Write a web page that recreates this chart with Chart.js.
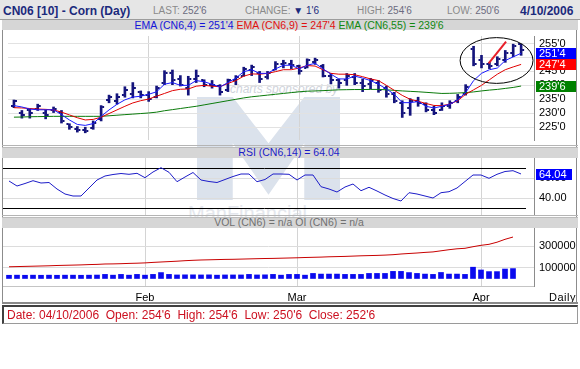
<!DOCTYPE html>
<html>
<head>
<meta charset="utf-8">
<title>CN06 [10] - Corn (Day)</title>
<script src="https://cdn.jsdelivr.net/npm/chart.js@4.4.1/dist/chart.umd.min.js"></script>
<style>
  body { margin: 0; background: #fff; font-family: "Liberation Sans", Arial, sans-serif; }
  #page { position: relative; width: 580px; height: 369px; overflow: hidden; }
  .box { position: absolute; }
  .txt { position: absolute; white-space: pre; line-height: 12px; }
  canvas { position: absolute; }
</style>
</head>
<body>
<div id="page">
  <!-- header -->
  <div class="box" style="left:0;top:0;width:580px;height:19px;background:#e6e6e6;"></div>
  <div class="box" style="left:0;top:19px;width:580px;height:1px;background:#9c9c9c;"></div>
  <div class="txt" style="left:3px;top:4px;font:bold 12px 'Liberation Sans';color:#1b2a7c;">CN06 [10] - Corn (Day)</div>
  <div class="txt" style="left:153px;top:5px;font-size:10px;color:#8a8a8a;">LAST: <span style="color:#6b6b80">252'6</span></div>
  <div class="txt" style="left:245px;top:5px;font-size:10px;color:#8a8a8a;">CHANGE: <span style="color:#1b2a7c">&#9660;</span> <span style="color:#1b2a7c">1'6</span></div>
  <div class="txt" style="left:357px;top:5px;font-size:10px;color:#8a8a8a;">HIGH: <span style="color:#6b6b80">254'6</span></div>
  <div class="txt" style="left:447px;top:5px;font-size:10px;color:#8a8a8a;">LOW: <span style="color:#6b6b80">250'6</span></div>
  <div class="txt" style="left:520px;top:4px;font:bold 12px 'Liberation Sans';color:#1b2a7c;">4/10/2006</div>

  <!-- EMA legend band -->
  <div class="box" style="left:2px;top:20px;width:576px;height:10px;background:#d6d6d6;"></div>
  <div class="txt" id="emaText" style="left:0;top:19px;width:578px;text-align:center;font-size:10.5px;"></div>

  <!-- frame -->
  <div class="box" style="left:2px;top:30px;width:575px;height:273px;border-left:1px solid #8c8c8c;border-right:1px solid #8c8c8c;box-sizing:border-box;"></div>

  <!-- watermark -->
  <div class="box" style="left:197px;top:97px;width:143px;height:103px;background:#dbe2ec;clip-path:polygon(0 0,25% 0,50% 45%,75% 0,100% 0,100% 100%,75% 100%,75% 45%,50% 95%,25% 45%,25% 100%,0 100%);"></div>
  <div class="txt" style="left:230px;top:82px;font:italic 12px 'Liberation Sans';color:#cfd3db;">charts sponsored by</div>
  <div class="txt" style="left:188px;top:203px;font:20px 'Liberation Sans';line-height:20px;color:#e4e7ed;">ManFinancial</div>

  <!-- panel bands -->
  <div class="box" style="left:2px;top:145px;width:576px;height:1px;background:#b4b4b4;"></div>
  <div class="box" style="left:2px;top:147px;width:576px;height:10px;background:#d6d6d6;border-top:1px solid #bcbcbc;"></div>
  <div class="txt" style="left:0;top:146px;width:578px;text-align:center;font-size:10.5px;color:#1c1cc8;">RSI (CN6,14) = 64.04</div>
  <div class="box" style="left:2px;top:215px;width:576px;height:1px;background:#b4b4b4;"></div>
  <div class="box" style="left:2px;top:217px;width:576px;height:10px;background:#d6d6d6;border-top:1px solid #bcbcbc;"></div>
  <div class="txt" style="left:0;top:216px;width:578px;text-align:center;font-size:10.5px;color:#707070;">VOL (CN6) = n/a OI (CN6) = n/a</div>

  <canvas id="priceChart" width="574" height="114" style="left:3px;top:31px;"></canvas>
  <canvas id="rsiChart" width="574" height="57" style="left:3px;top:158px;"></canvas>
  <canvas id="volChart" width="574" height="75" style="left:3px;top:228px;"></canvas>

  <div class="txt" style="left:549px;top:291px;font-size:11px;letter-spacing:0.5px;">Daily</div>
  <div class="box" style="left:2px;top:302px;width:576px;height:2px;background:#8a8a8a;"></div>

  <!-- footer -->
  <div class="box" style="left:2px;top:305px;width:576px;height:19px;border:1px solid #9a9a9a;border-left:2px solid #404040;border-top:2px solid #404040;box-sizing:border-box;"></div>
  <div class="txt" style="left:7px;top:309px;font-size:12px;color:#cc1020;">Date: 04/10/2006  Open: 254'6  High: 254'6  Low: 250'6  Close: 252'6</div>
</div>

<script>
// trading days shown (Jan 6 - Apr 10, 2006)
const dates = [
  '1/6', '1/9', '1/10', '1/11', '1/12', '1/13', '1/17', '1/18', '1/19', '1/20',
  '1/23', '1/24', '1/25', '1/26', '1/27', '1/30', '1/31',
  '2/1', '2/2', '2/3', '2/6', '2/7', '2/8', '2/9', '2/10', '2/13', '2/14',
  '2/15', '2/16', '2/17', '2/21', '2/22', '2/23', '2/24', '2/27', '2/28',
  '3/1', '3/2', '3/3', '3/6', '3/7', '3/8', '3/9', '3/10', '3/13', '3/14',
  '3/15', '3/16', '3/17', '3/20', '3/21', '3/22', '3/23', '3/24', '3/27', '3/28',
  '3/29', '3/30', '3/31',
  '4/3', '4/4', '4/5', '4/6', '4/7', '4/10'
];

const openPx = [
  232.5, 230.25, 231, 231.5, 230.25, 231.25, 230.5, 226, 224.25, 224,
  224.75, 228, 234.75, 234.5, 236.5, 236.75, 237.5, 236.5, 236, 241,
  244.25, 242.25, 239, 242.25, 241.75, 240.25, 239.75, 238.5, 241.75, 243.5,
  245.5, 244.25, 243, 245.5, 247.5, 247.5, 247, 246.25, 248.5, 247,
  243.25, 241.75, 241.75, 243, 241, 240.5, 241, 239, 236.75, 233.75,
  231.75, 234.25, 233.25, 231.25, 231.25, 232.5, 234.5, 237, 253, 249.25,
  247.5, 247.5, 249, 251.5, 254.75
];
const highPx = [
  234.75, 231, 231.5, 233.25, 231.25, 232.25, 231, 226.25, 225.25, 225,
  227.25, 232.75, 236.5, 237, 239.5, 241, 238, 237.75, 239.75, 245.25,
  245.5, 243.5, 243.25, 245.5, 242, 241.75, 240.25, 242.25, 243.5, 246.5,
  247.25, 245, 245, 248.5, 249, 249, 247.25, 249.5, 249.75, 247.5,
  244.25, 242.25, 244.25, 244.25, 242.25, 242.5, 241.75, 239.75, 237.5, 234.5,
  235.25, 235.75, 233.75, 232.5, 233.75, 234.5, 236.75, 240.25, 254, 250.75,
  248.25, 250.25, 252.5, 254.75, 254.75
];
const lowPx = [
  232, 228.25, 228.25, 231, 228, 230.25, 226.5, 224.25, 223.25, 223,
  224.25, 227.25, 233.75, 233.25, 235.75, 235.5, 235.5, 234.25, 235.5, 240.25,
  240.25, 239.75, 236.5, 241, 239.5, 239, 236.5, 237.75, 240.25, 243.25,
  243.5, 241, 242.25, 245.5, 246.25, 246, 244, 246.25, 247.5, 243,
  240.5, 239, 240, 240.25, 237.75, 238.75, 237.5, 235.75, 233.75, 228.5,
  229.25, 232.5, 230.5, 229.5, 231, 231.75, 233.75, 236.5, 247, 246.25,
  246, 247, 248.25, 250.25, 250.75
];
const closePx = [
  234.25, 229.25, 230.25, 232.5, 229.25, 231.5, 227.25, 225, 224, 223.75,
  226.5, 232.25, 235.75, 236, 238.5, 239, 236.5, 235.25, 239, 244.25,
  241.75, 240.25, 242.25, 243.25, 240.25, 240, 237.75, 241.75, 243, 246,
  246.5, 242.25, 244.25, 247.5, 248, 247.25, 245, 249, 249, 243.5,
  241.75, 241, 243.5, 241, 239.75, 241.75, 238.5, 236.75, 234.5, 230,
  234.5, 233.75, 231.25, 230.25, 232.75, 233.5, 236, 239.5, 247.5, 247.5,
  247, 249.5, 251.5, 254, 252.75
];

const ema4 = [
  232.75, 232.25, 231.5, 231.25, 231.25, 231.25, 229.5, 227.6, 226, 225.65,
  226.3, 228.9, 231.2, 233.2, 234.8, 235.8, 236.1, 236.8, 237.7, 240.4,
  241, 240, 240, 241.7, 241.3, 240.4, 239.4, 241, 242.6, 244.9,
  245.6, 244.3, 244.3, 245.9, 247.2, 247.2, 245.9, 247.2, 247.9, 245.9,
  244, 242.3, 242.3, 243.3, 242.6, 241.7, 240.4, 238.7, 236.8, 233.8,
  233.8, 234.2, 232.5, 231.9, 232.5, 233.2, 234.8, 237.4, 241.7, 244.3,
  245.6, 246.2, 248.9, 250.2, 251.5
];
const ema9 = [
  232, 231.9, 231.7, 231.5, 231.4, 231.2, 230.4, 229.4, 228.4, 227.6,
  227.8, 228.6, 229.9, 231.2, 232.5, 233.7, 234.5, 235.1, 236.1, 237.1,
  238.1, 238.6, 238.7, 239.7, 240, 239.7, 239.5, 240.7, 241.7, 243.3,
  244.1, 244, 244.3, 244.9, 245.6, 245.6, 246.2, 247.1, 246.9, 245.6,
  244.3, 244, 244, 243.8, 243.1, 242.3, 241.7, 240, 238.2, 236.4,
  235, 234.3, 233.5, 232.8, 232.7, 233.3, 234.5, 236.8, 238.4, 240,
  242, 244, 245.6, 246.6, 247.5
];
const ema55 = [
  228.6, 228.65, 228.75, 228.8, 228.85, 228.9, 228.9, 228.9, 228.9, 228.9,
  228.9, 228.9, 229.1, 229.3, 229.5, 229.7, 229.9, 230.1, 230.4, 230.9,
  231.3, 231.7, 232.1, 232.5, 233, 233.5, 234, 234.5, 235, 235.5,
  235.9, 236.2, 236.5, 236.8, 237.1, 237.4, 237.7, 237.9, 238, 238.1,
  238.25, 238.4, 238.45, 238.5, 238.5, 238.55, 238.55, 238.4, 238.2, 238,
  237.85, 237.7, 237.5, 237.3, 237.1, 237.15, 237.25, 237.4, 237.65, 238,
  238.3, 238.55, 238.9, 239.25, 239.75
];

const rsi14 = [
  57, 52, 54.5, 57.3, 55, 55.5, 49, 44, 42, 42,
  50, 58, 62, 63.5, 64.5, 63.7, 64.7, 60.3, 66, 70.3,
  65.7, 56.3, 61, 65.5, 58, 56.5, 55.5, 58.5, 61.5, 64,
  64, 56.3, 58.5, 64, 64, 63.7, 58, 63, 63, 51.3,
  49, 46, 51, 54, 47.3, 50.7, 47, 43, 39.5, 37,
  45.3, 44, 42, 40, 45.3, 46.3, 50, 56.5, 63, 63,
  59.7, 63.7, 66.5, 67.3, 64.04
];
const rsiBands = [70, 30];

// last day has no volume / open interest yet (n/a)
const volume = [
  30000, 31000, 30000, 31000, 30000, 31000, 30000, 31000, 31000, 30000,
  31000, 32000, 38000, 31000, 38000, 31000, 38000, 31000, 38000, 55000,
  38000, 33000, 34000, 34000, 33000, 34000, 31000, 33000, 33000, 33000,
  38000, 33000, 34000, 38000, 31000, 38000, 38000, 31000, 47000, 41000,
  41000, 41000, 38000, 38000, 38000, 47000, 47000, 47000, 66000, 66000,
  55000, 47000, 41000, 38000, 56000, 41000, 41000, 38000, 105000, 79000,
  64000, 64000, 88000, 92000, null
];
const openInt = [
  109000, 110700, 112600, 114400, 116300, 118100, 120900, 122800, 124600, 126500,
  129300, 131200, 134900, 135800, 137700, 140500, 142300, 145100, 149800, 153500,
  157200, 160900, 165600, 169300, 172100, 173900, 175800, 177700, 178600, 180500,
  182300, 184200, 186000, 187000, 188800, 190700, 192600, 195300, 197200, 199100,
  201900, 203700, 205600, 208400, 211200, 213000, 214900, 217700, 221400, 227900,
  232600, 237200, 242800, 247400, 257700, 267900, 276300, 280900, 295800, 308800,
  318100, 337700, 364600, 386000, null
];

const priceTicks = [225, 230, 235, 240, 245, 250, 255];
const rsiTicks = [40, 60];
const volTicks = [100000, 300000];
const monthStarts = ['2/1', '3/1', '4/3'];
const monthNames = ['Feb', 'Mar', 'Apr'];

// hand-drawn notes on the price panel (bar index, price)
const noteOval = { i: 60.9, v: 248.9, di: 4.6, dv: 8.2 };
const noteLine = [[59.9, 247.9], [62.1, 255.7]];

const monthIdx = monthStarts.map(d => dates.indexOf(d));
const pts = arr => arr.map((v, i) => ({ x: i, y: v }));
const fmtPrice = v => Math.floor(v) + "'" + Math.round((v - Math.floor(v)) * 8);
const last = arr => arr[arr.length - 1];

document.getElementById('emaText').innerHTML =
  '<span style="color:#1414d8">EMA (CN6,4) = ' + fmtPrice(last(ema4)) + '</span> ' +
  '<span style="color:#e01010">EMA (CN6,9) = ' + fmtPrice(last(ema9)) + '</span> ' +
  '<span style="color:#118811">EMA (CN6,55) = ' + fmtPrice(last(ema55)) + '</span>';

Chart.defaults.font.family = "'Liberation Sans', Arial, sans-serif";
Chart.defaults.font.size = 11;
Chart.defaults.color = '#000';

// 8 px per trading day over a 531 px plot area
const X_MIN = -0.75, X_MAX = 65.625;

function xAxis(showLabels) {
  return {
    type: 'linear',
    min: X_MIN,
    max: X_MAX,
    offset: false,
    afterBuildTicks: s => { s.ticks = monthIdx.map(v => ({ value: v })); },
    grid: { color: '#d4d4d4', drawTicks: false, offset: false },
    border: { display: showLabels, color: '#c4c4c4' },
    ticks: {
      display: showLabels,
      autoSkip: false,
      maxRotation: 0,
      padding: 5,
      font: { size: 11 },
      callback: (v, i) => monthNames[i]
    },
    afterFit: s => { s.height = showLabels ? 17 : 0; s.paddingLeft = 0; s.paddingRight = 0; }
  };
}

function yAxis(min, max, tickVals, fmt, gridColor) {
  return {
    position: 'right',
    min: min,
    max: max,
    afterBuildTicks: s => { s.ticks = tickVals.map(v => ({ value: v })); },
    grid: { color: gridColor, drawTicks: false },
    border: { color: '#8c8c8c' },
    ticks: { padding: 5, font: { size: 11 }, callback: fmt },
    afterFit: s => { s.width = 43; s.paddingTop = 0; s.paddingBottom = 0; }
  };
}

// small value boxes drawn over the right axis
function flagPlugin(flags) {
  return {
    id: 'flags',
    afterDraw(chart) {
      const ctx = chart.ctx;
      const y = chart.scales.y;
      const left = chart.chartArea.right + 2;
      ctx.save();
      ctx.font = "11px 'Liberation Sans', Arial, sans-serif";
      ctx.textBaseline = 'middle';
      for (const f of flags) {
        const py = Math.round(y.getPixelForValue(f.value));
        ctx.fillStyle = f.bg;
        ctx.fillRect(left, py - 5, f.w || 40, 11);
        ctx.fillStyle = '#fff';
        ctx.fillText(f.text, left + 3, py + 1);
      }
      ctx.restore();
    }
  };
}

// overbought / oversold guide lines on the RSI panel
const bandPlugin = {
  id: 'bands',
  beforeDatasetsDraw(chart) {
    const { ctx, chartArea, scales: { y } } = chart;
    ctx.save();
    ctx.strokeStyle = '#000';
    ctx.lineWidth = 1;
    for (const b of rsiBands) {
      const py = Math.round(y.getPixelForValue(b)) + 0.5;
      ctx.beginPath();
      ctx.moveTo(chartArea.left, py);
      ctx.lineTo(chartArea.right - 8, py);
      ctx.stroke();
    }
    ctx.restore();
  }
};

function tickImage(side) {
  const c = document.createElement('canvas');
  c.width = 8;
  c.height = 2;
  const g = c.getContext('2d');
  g.fillStyle = '#14147c';
  g.fillRect(side === 'open' ? 1 : 5, 0, 2, 2);
  return c;
}

const notesPlugin = {
  id: 'notes',
  afterDatasetsDraw(chart) {
    const { ctx, scales: { x, y } } = chart;
    ctx.save();
    const cx = x.getPixelForValue(noteOval.i);
    const cy = y.getPixelForValue(noteOval.v);
    const rx = x.getPixelForValue(noteOval.i + noteOval.di) - cx;
    const ry = cy - y.getPixelForValue(noteOval.v + noteOval.dv);
    ctx.strokeStyle = '#000';
    ctx.lineWidth = 1;
    ctx.beginPath();
    ctx.ellipse(cx, cy, rx, ry, 0, 0, Math.PI * 2);
    ctx.stroke();
    ctx.strokeStyle = '#e8202a';
    ctx.lineWidth = 2;
    ctx.beginPath();
    ctx.moveTo(x.getPixelForValue(noteLine[0][0]), y.getPixelForValue(noteLine[0][1]));
    ctx.lineTo(x.getPixelForValue(noteLine[1][0]), y.getPixelForValue(noteLine[1][1]));
    ctx.stroke();
    ctx.restore();
  }
};

const baseOpts = {
  responsive: false,
  animation: false,
  devicePixelRatio: 1,
  layout: { padding: 0 },
  plugins: { legend: { display: false }, tooltip: { enabled: false } }
};

const lineDs = (data, color, order) => ({
  type: 'line', data: pts(data), borderColor: color, borderWidth: 1,
  pointRadius: 0, tension: 0, order: order
});

// price panel
new Chart(document.getElementById('priceChart'), {
  type: 'line',
  data: {
    datasets: [
      lineDs(ema4, '#1a1aff', 0),
      lineDs(ema9, '#e00000', 0),
      lineDs(ema55, '#0a7a0a', 0),
      {
        type: 'bar',
        data: dates.map((d, i) => ({ x: i, y: [lowPx[i], highPx[i]] })),
        backgroundColor: '#14147c',
        barThickness: 2,
        order: 1
      },
      {
        type: 'scatter', data: pts(openPx), pointStyle: tickImage('open'),
        pointRadius: 3, order: 1
      },
      {
        type: 'scatter', data: pts(closePx), pointStyle: tickImage('close'),
        pointRadius: 3, order: 1
      }
    ]
  },
  options: Object.assign({}, baseOpts, {
    scales: {
      x: xAxis(false),
      y: yAxis(220.42, 257.68, priceTicks, v => fmtPrice(v), '#e2e2e2')
    }
  }),
  plugins: [notesPlugin, flagPlugin([
    { value: last(ema4), bg: '#0000ff', text: fmtPrice(last(ema4)) },
    { value: last(ema9), bg: '#ff0000', text: fmtPrice(last(ema9)) },
    { value: last(ema55), bg: '#008000', text: fmtPrice(last(ema55)) }
  ])]
});

// RSI panel
new Chart(document.getElementById('rsiChart'), {
  type: 'line',
  data: { datasets: [lineDs(rsi14, '#1c1cc8', 0)] },
  options: Object.assign({}, baseOpts, {
    scales: {
      x: xAxis(false),
      y: yAxis(23, 80, rsiTicks, v => v.toFixed(2), '#dcdcdc')
    }
  }),
  plugins: [bandPlugin, flagPlugin([{ value: last(rsi14), bg: '#0000ff', text: last(rsi14).toFixed(2), w: 36 }])]
});

// volume / open interest panel
new Chart(document.getElementById('volChart'), {
  type: 'line',
  data: {
    datasets: [
      lineDs(openInt, '#c80000', 0),
      {
        type: 'bar', data: pts(volume), backgroundColor: '#0a0aee',
        barThickness: 5, order: 1
      }
    ]
  },
  options: Object.assign({}, baseOpts, {
    scales: {
      x: xAxis(true),
      y: yAxis(-70000, 470000, volTicks, v => String(v), '#dcdcdc')
    }
  })
});
</script>
</body>
</html>
